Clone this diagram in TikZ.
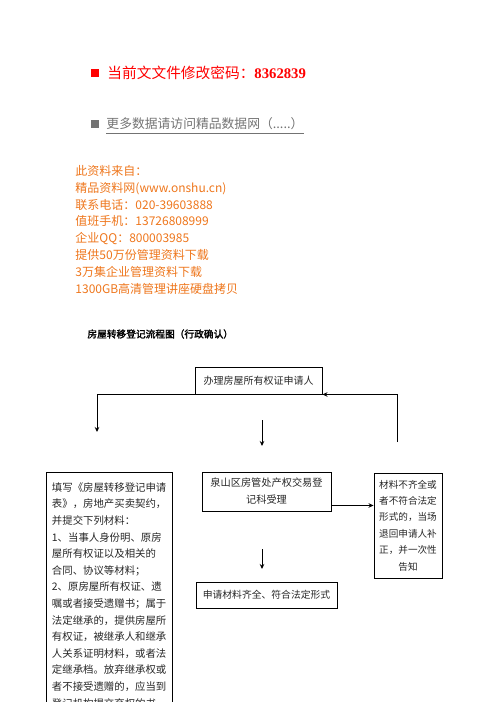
\documentclass[tikz,border=0pt]{standalone}
\usepackage{fontspec}
\setmainfont{Noto Sans CJK SC}[AutoFakeBold=2]
\newfontfamily\numfont{Liberation Serif}
\usepackage{tikz}
\usetikzlibrary{arrows.meta}
\definecolor{pwdred}{RGB}{255,0,0}
\definecolor{linkgray}{RGB}{115,115,115}
\definecolor{adorange}{RGB}{238,118,28}
\tikzstyle{box} = [draw, inner sep=0pt, align=center, text=black!85]
\tikzstyle{bullet} = [inner sep=0pt, minimum size=8pt]

\begin{document}
\begin{tikzpicture}[x=1pt,y=-1pt,line width=0.9pt,>={Stealth[length=5pt,width=4.5pt]}]
    \useasboundingbox (0,0) rectangle (496,702);
    \clip (0,0) rectangle (496,702);

    % header lines
    \node[bullet, fill=pwdred] (redmark) at (95,73) {};
    \node[anchor=west, inner sep=0pt, text=pwdred, font=\fontsize{14.7}{17}\selectfont] (password) at (107,73) {当前文文件修改密码：{\numfont\bfseries 8362839}};
    \node[bullet, fill=linkgray] (graymark) at (95,124) {};
    \node[anchor=west, inner sep=0pt, text=linkgray, font=\fontsize{12.8}{15}\selectfont] (moredata) at (106,124) {更多数据请访问精品数据网（.....）};
    \draw[linkgray, line width=0.6pt] ([yshift=-2.5pt]moredata.south west) -- ([yshift=-2.5pt]moredata.south east);

    \node[anchor=north west, align=left, inner sep=0pt, text=adorange, font=\fontsize{12}{16.8}\selectfont] (source) at (75,165) {此资料来自：\\精品资料网(www.onshu.cn)\\联系电话：020-39603888\\值班手机：13726808999\\企业QQ：800003985\\提供50万份管理资料下载\\3万集企业管理资料下载\\1300GB高清管理讲座硬盘拷贝};

    \node[anchor=west, inner sep=0pt, font=\fontsize{9.7}{12}\selectfont\bfseries] (title) at (87,334) {房屋转移登记流程图（行政确认）};

    % flow chart
    \node[box, minimum width=127pt, minimum height=27pt, font=\fontsize{10}{12}\selectfont] (applicant) at (258.5,380.5) {办理房屋所有权证申请人};
    \node[box, anchor=north west, align=left, text width=115pt, inner xsep=5.5pt, inner ysep=10pt, font=\fontsize{10.4}{16.6}\selectfont] (materials) at (46,472) {填写《房屋转移登记申请\\表》，房地产买卖契约，\\并提交下列材料：\\1、当事人身份明、原房\\屋所有权证以及相关的\\合同、协议等材料；\\2、原房屋所有权证、遗\\嘱或者接受遗赠书；属于\\法定继承的，提供房屋所\\有权证，被继承人和继承\\人关系证明材料，或者法\\定继承档。放弃继承权或\\者不接受遗赠的，应当到\\登记机构提交弃权的书};
    \node[box, minimum width=129pt, minimum height=39pt, font=\fontsize{10.2}{17}\selectfont] (office) at (266.5,491.5) {泉山区房管处产权交易登\\记科受理};
    \node[box, minimum width=68pt, minimum height=105pt, font=\fontsize{9.6}{16.4}\selectfont] (reject) at (408,525.5) {材料不齐全或\\者不符合法定\\形式的，当场\\退回申请人补\\正，并一次性\\告知};
    \node[box, minimum width=141pt, minimum height=26pt, font=\fontsize{9.8}{12}\selectfont] (complete) at (266.5,595) {申请材料齐全、符合法定形式};

    \coordinate (leftend) at (97,432);
    \coordinate (midtop) at (262,420);
    \coordinate (midbot) at (262,446);
    \coordinate (rightfoot) at (397,442);
    \coordinate (officeout) at ([yshift=6pt]office.south east);
    \coordinate (downtop) at (262,549);
    \coordinate (downbot) at (262,569);

    \draw[->] (applicant.south west) -| (leftend);
    \draw[->] (midtop) -- (midbot);
    \draw[->] (rightfoot) |- (applicant.south east);
    \draw[->] (officeout) -- (officeout -| reject.west);
    \draw[->] (downtop) -- (downbot);
\end{tikzpicture}
\end{document}
